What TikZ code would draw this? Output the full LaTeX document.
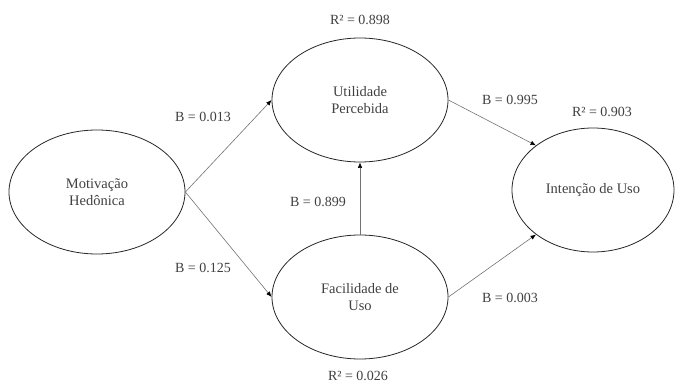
\documentclass[tikz,border=0pt]{standalone}
\usepackage{fontspec}
\setmainfont{Liberation Serif}
\usepackage{tikz}
\usetikzlibrary{arrows.meta,shapes.geometric}

\begin{document}
\begin{tikzpicture}[x=1pt,y=1pt,
  construto/.style={ellipse,draw=black!85,line width=0.8pt,inner sep=0pt,
    minimum width=176pt,minimum height=124pt,align=center,text=black!75,
    font=\fontsize{14.5}{17.5}\selectfont},
  caminho/.style={draw=black!55,line width=0.6pt,-{Latex[length=5.5pt,width=4.5pt,color=black]}},
  coef/.style={text=black!75,font=\fontsize{14}{17}\selectfont}]
\useasboundingbox (0,0) rectangle (675,383);
% construtos
\node[construto] (mh) at (97,191) {Motivação\\Hedônica};
\node[construto] (up) at (360,283) {Utilidade\\Percebida};
\node[construto] (fu) at (360,86) {Facilidade de\\Uso};
\node[construto,minimum width=162pt] (iu) at (593,193) {Intenção de Uso};
% caminhos
\draw[caminho] (mh.east) -- (up.west);
\draw[caminho] (mh.east) -- (fu.west);
\draw[caminho] (fu.north) -- (up.south);
\draw[caminho] (up.east) -- (iu.142);
\draw[caminho] (fu.east) -- (iu.218);
% coeficientes
\node[coef] (b1) at (203,266) {B = 0.013};
\node[coef] (b2) at (203,115) {B = 0.125};
\node[coef] (b3) at (318,181) {B = 0.899};
\node[coef] (b4) at (510,283) {B = 0.995};
\node[coef] (b5) at (510,85) {B = 0.003};
\node[coef] (r1) at (360,363) {R² = 0.898};
\node[coef] (r2) at (602,271) {R² = 0.903};
\node[coef] (r3) at (358,7) {R² = 0.026};
\end{tikzpicture}
\end{document}
